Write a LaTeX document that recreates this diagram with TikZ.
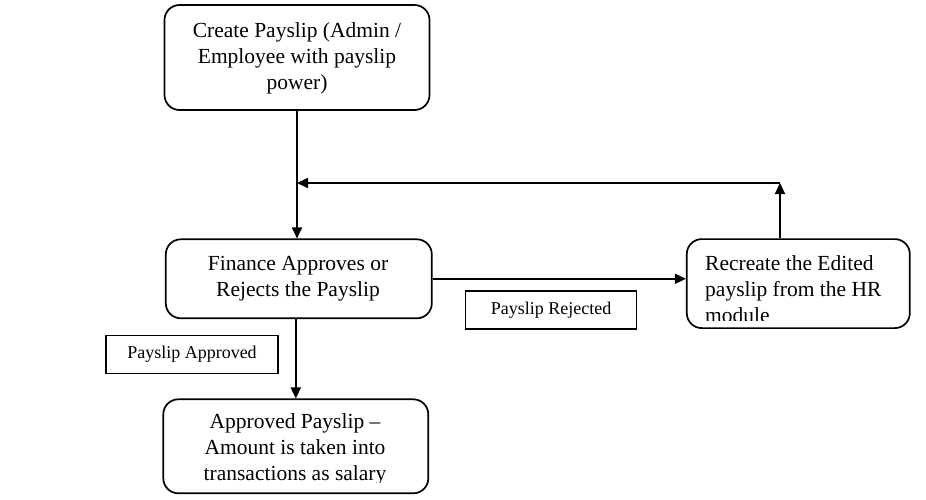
\documentclass[tikz,border=0pt]{standalone}
\usepackage{fontspec}
\setmainfont{Liberation Serif}
\usetikzlibrary{arrows.meta}
\begin{document}
\begin{tikzpicture}[x=1pt,y=-1pt,
  box/.style={draw, line width=1.7pt, rounded corners=15pt, inner sep=0pt},
  lblbox/.style={draw, line width=1.2pt, inner sep=0pt, minimum height=38pt,
    font=\fontsize{18}{21}\selectfont},
  conn/.style={line width=1.9pt, -{Triangle[length=11pt,width=10pt]}},
  txt/.style={font=\fontsize{21.5}{26}\selectfont, inner sep=0pt}
]
\useasboundingbox (0,0) rectangle (926,499);

% boxes
\node[box, minimum width=265pt, minimum height=105pt] (create) at (297,57.5) {};
\node[box, minimum width=266pt, minimum height=79pt] (finance) at (298.8,278.8) {};
\node[box, minimum width=223pt, minimum height=89pt] (recreate) at (798.3,283.6) {};
\node[box, minimum width=265pt, minimum height=94pt] (approved) at (295.8,446.3) {};

% texts
\node[txt, align=center] (tcreate) at (297,58) {Create Payslip (Admin /\\Employee with payslip\\power)};
\node[txt, align=center] (tfinance) at (298,278.5) {Finance Approves or\\Rejects the Payslip};
\begin{scope}
  \clip (680,240) rectangle (915,320);
  \node[txt, align=left, anchor=west] (trecreate) at (705,289) {Recreate the Edited\\payslip from the HR\\module};
\end{scope}
\begin{scope}
  \clip (160,400) rectangle (430,482);
  \node[txt, align=center] (tapproved) at (295,449.5) {Approved Payslip --\\Amount is taken into\\transactions as salary};
\end{scope}

% label boxes
\node[lblbox, minimum width=171pt] (lrej) at (551,310) {Payslip Rejected};
\node[lblbox, minimum width=172pt] (lapp) at (192,354.5) {Payslip Approved};

% connectors
\coordinate (turn) at (780,183);
\draw[conn] (create.south) -- (create.south |- finance.north);
\draw[conn] (finance.east) -- (finance.east -| recreate.west);
\draw[conn] (turn |- recreate.north) -- (turn);
\draw[conn] (turn) -- (create.south |- turn);
\draw[conn] ([xshift=-3pt]finance.south) -- ([xshift=-3pt]finance.south |- approved.north);
\end{tikzpicture}
\end{document}
